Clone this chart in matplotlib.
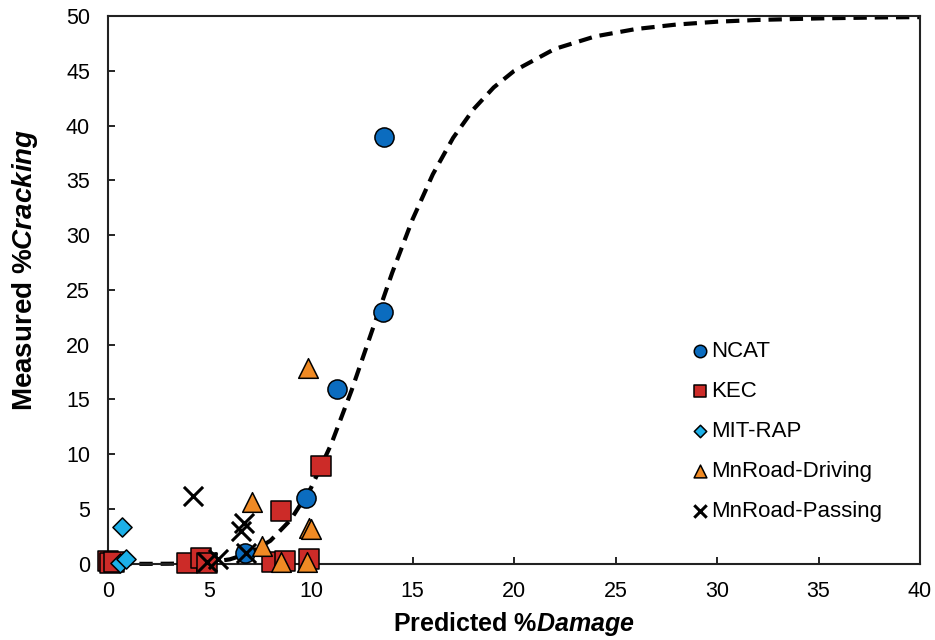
import numpy as np
import matplotlib
matplotlib.use('Agg')
import matplotlib.pyplot as plt

plt.rcParams['font.family'] = ['Liberation Sans', 'DejaVu Sans']
plt.rcParams['mathtext.fontset'] = 'custom'
plt.rcParams['mathtext.rm'] = 'Liberation Sans:bold'
plt.rcParams['mathtext.it'] = 'Liberation Sans:bold:italic'

# measured vs predicted
ncat_x = [6.75, 9.75, 11.3, 13.55, 13.6]
ncat_y = [1.0, 6.0, 16.0, 23.0, 39.0]

kec_x = [0.0, 0.1, 0.3, 3.9, 4.6, 4.9, 8.1, 8.7, 9.9, 8.5, 10.5]
kec_y = [0.3, 0.1, 0.2, 0.1, 0.5, 0.1, 0.2, 0.3, 0.4, 4.8, 8.9]

mit_x = [0.7, 0.6, 0.9]
mit_y = [3.4, 0.1, 0.4]

drv_x = [9.85, 7.1, 7.6, 9.9, 10.0, 8.5, 9.8]
drv_y = [17.9, 5.6, 1.6, 3.3, 3.2, 0.2, 0.2]

pas_x = [4.2, 6.55, 6.7, 6.8, 4.9, 5.4]
pas_y = [6.2, 3.0, 3.7, 1.0, 0.2, 0.4]

# transfer-function curve (dashed)
fit_x = [0.5, 1, 2, 3, 4, 5, 6, 7, 8, 9, 10, 11, 12, 13, 14, 15, 16, 17, 18,
         19, 20, 22, 24, 26, 28, 30, 32, 35, 38, 40]
fit_y = [0.0, 0.0, 0.0, 0.01, 0.04, 0.14, 0.41, 1.0, 2.11, 4.02, 6.93, 10.94,
         15.84, 21.23, 26.57, 31.43, 35.55, 38.88, 41.48, 43.48, 44.98, 46.99,
         48.14, 48.81, 49.22, 49.48, 49.64, 49.78, 49.87, 49.9]

fig = plt.figure(figsize=(9.35, 6.4), dpi=100)
ax = fig.add_axes([0.1155, 0.119, 0.8685, 0.856])

ax.plot(fit_x, fit_y, ls=(0, (3.2, 1.9)), color='black', lw=3, zorder=2,
        clip_on=False)

mk = dict(edgecolor='black', linewidths=1.1, clip_on=False, zorder=3)
ax.scatter(ncat_x, ncat_y, marker='o', s=190, color='#0B6CBF', label='NCAT', **mk)
ax.scatter(kec_x, kec_y, marker='s', s=190, color='#CC2B28', label='KEC', **mk)
ax.scatter(mit_x, mit_y, marker='D', s=95, color='#1CB0E8', label='MIT-RAP', **mk)
ax.scatter(drv_x, drv_y, marker='^', s=200, color='#F08A24',
           label='MnRoad-Driving', **mk)
ax.scatter(pas_x, pas_y, marker='x', s=190, color='black', linewidths=2.2,
           label='MnRoad-Passing', clip_on=False, zorder=4)

ax.set_xlim(0, 40)
ax.set_ylim(0, 50)
ax.set_xticks(np.arange(0, 41, 5))
ax.set_yticks(np.arange(0, 51, 5))
ax.tick_params(direction='in', length=5, width=1.2, labelsize=15.5,
               colors='black')
ax.tick_params(axis='x', pad=12)
ax.tick_params(axis='y', pad=13)
for s in ax.spines.values():
    s.set_linewidth(1.5)
    s.set_color('#222222')

ax.set_xlabel(r'Predicted $\mathit{\%Damage}$', fontsize=18, fontweight='bold',
              labelpad=6)
ax.set_ylabel(r'Measured $\mathit{\%Cracking}$', fontsize=20, fontweight='bold')
ax.yaxis.set_label_coords(-0.084, 0.536)

leg = ax.legend(loc='upper left', bbox_to_anchor=(0.703, 0.4275), frameon=False,
                fontsize=16, markerscale=0.65, handletextpad=0.05,
                labelspacing=0.855, handlelength=0.9, borderpad=0)

fig.savefig('out.png', dpi=100)
